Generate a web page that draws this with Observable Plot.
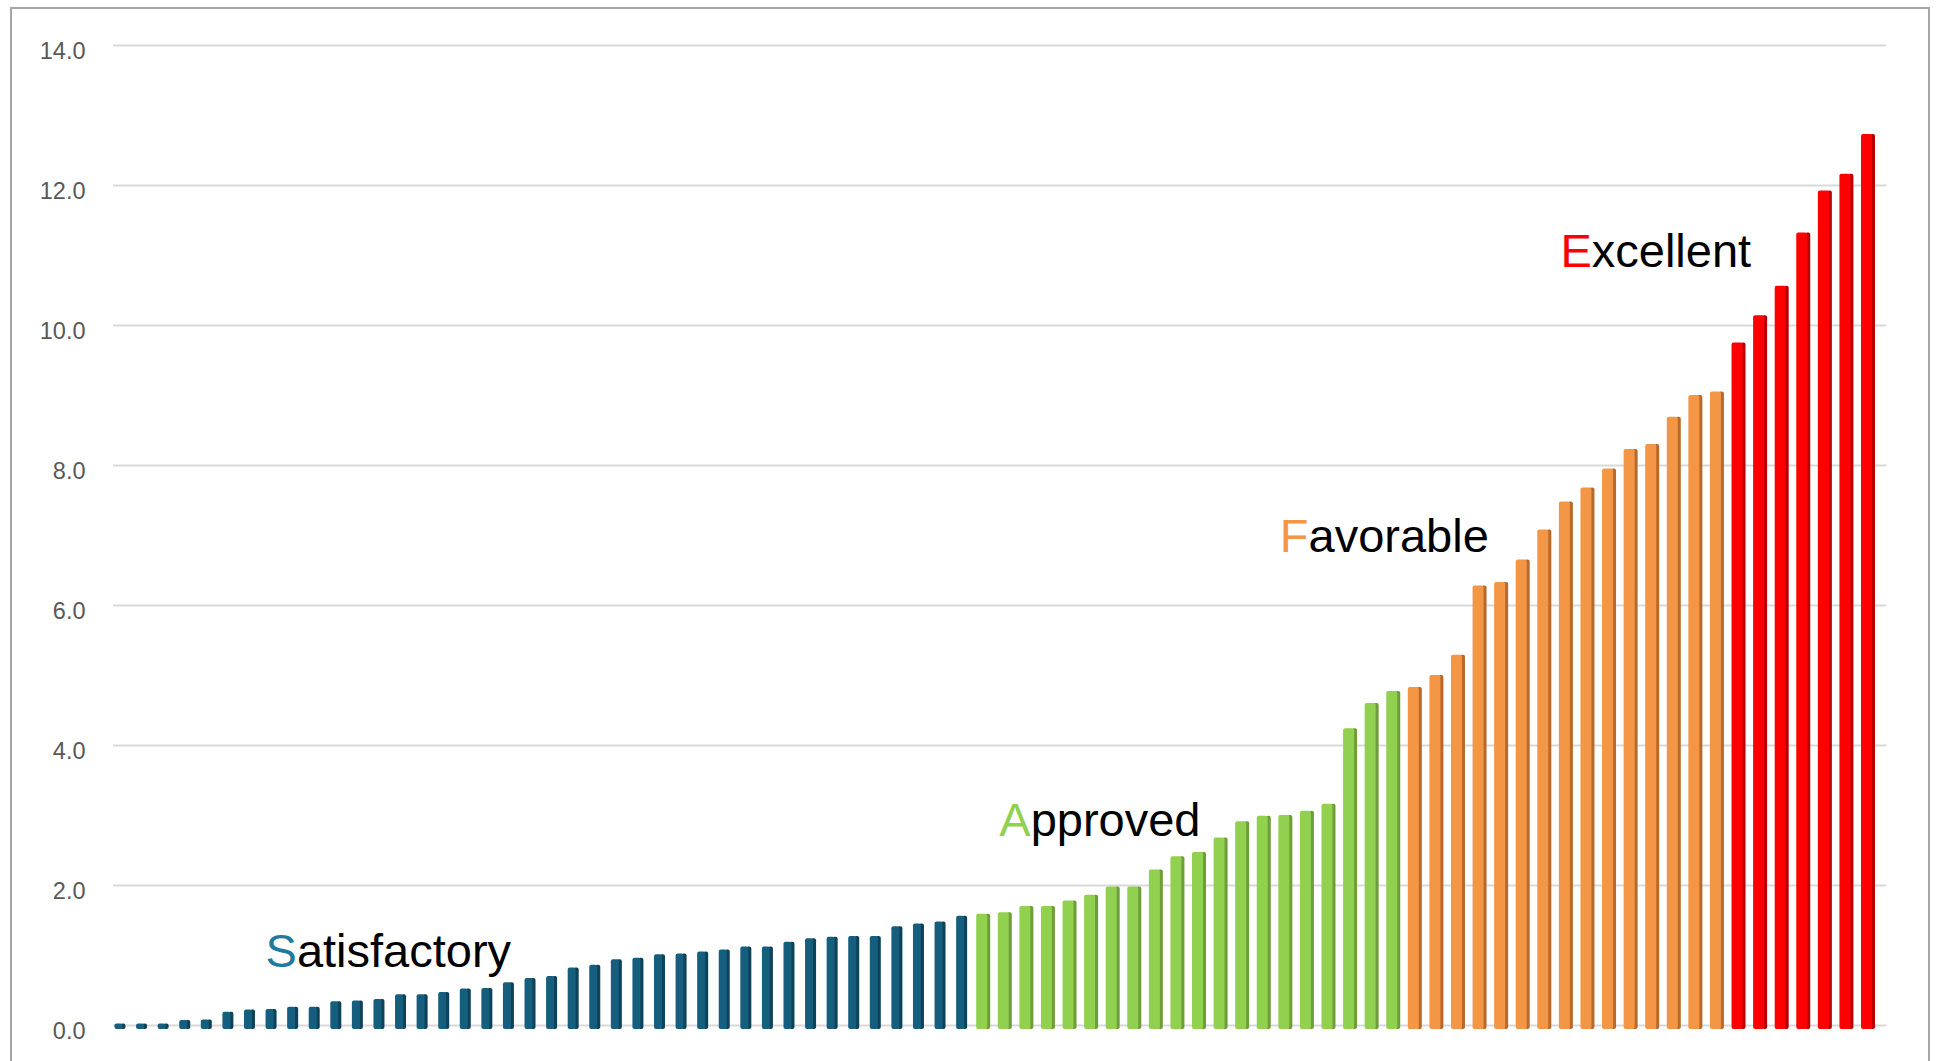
<!DOCTYPE html>
<html><head><meta charset="utf-8">
<script src="https://cdn.jsdelivr.net/npm/d3@7"></script>
<script src="https://cdn.jsdelivr.net/npm/@observablehq/plot@0.6"></script>
<style>
html,body{margin:0;padding:0;background:#fff;overflow:hidden;}
#wrap{position:relative;width:1939px;height:1061px;}
#wrap svg{position:absolute;left:0;top:0;}
#frame{position:absolute;left:10px;top:7px;width:1920px;height:1100px;border:2px solid #a6a6a6;box-sizing:border-box;pointer-events:none;}
</style></head><body><div id="wrap"><div id="frame"></div></div>
<script>
// ---- data ----
const satisfactory = [0.02, 0.02, 0.02, 0.07, 0.08, 0.19, 0.22, 0.23, 0.26, 0.26,
  0.34, 0.35, 0.37, 0.44, 0.44, 0.47, 0.52, 0.53, 0.61, 0.67,
  0.70, 0.82, 0.86, 0.94, 0.96, 1.01, 1.02, 1.05, 1.08, 1.12,
  1.12, 1.19, 1.24, 1.26, 1.27, 1.27, 1.41, 1.45, 1.48, 1.56];
const approved = [1.59, 1.61, 1.70, 1.70, 1.78, 1.86, 1.98, 1.98, 2.22, 2.41,
  2.47, 2.68, 2.91, 2.99, 3.00, 3.06, 3.16, 4.24, 4.60, 4.77];
const favorable = [4.83, 5.00, 5.29, 6.28, 6.33, 6.65, 7.08, 7.48, 7.68, 7.95,
  8.23, 8.30, 8.69, 9.00, 9.05];
const excellent = [9.75, 10.14, 10.56, 11.32, 11.92, 12.16, 12.73];
const groupNames = ["Satisfactory", "Approved", "Favorable", "Excellent"];
const yTicks = [0, 2, 4, 6, 8, 10, 12, 14];
// annotation anchors (bar index, value)
const labelBar = [7, 41, 54, 67];
const labelValue = [0.83, 2.71, 6.76, 10.83];

// ---- build table ----
const series = [satisfactory, approved, favorable, excellent];
const rows = [];
series.forEach((vals, g) => vals.forEach(v => rows.push({i: rows.length, value: v, group: groupNames[g]})));
const N = rows.length;
const labels = groupNames.map((name, k) => ({name, i: labelBar[k], value: labelValue[k]}));

// ---- styles ----
const front = {Satisfactory: "#165e7e", Approved: "#92d050", Favorable: "#f39646", Excellent: "#ff0000"};
const side  = {Satisfactory: "#0e4259", Approved: "#6e9e3a", Favorable: "#b86a2c", Excellent: "#b80000"};
const letterColor = {Satisfactory: "#1f7a9e", Approved: "#92d050", Favorable: "#f39646", Excellent: "#ff0000"};
const barWidth = {Satisfactory: 11, Approved: 14, Favorable: 14, Excellent: 14};
const xRange = [109.2, 1878.8];
const B = (xRange[1] - xRange[0]) / N;

const barMarks = [];
for (const g of groupNames) {
  const data = rows.filter(r => r.group === g);
  const w = barWidth[g], s = 3;
  barMarks.push(Plot.barY(data, {x: "i", y: "value", fill: side[g], rx: 2,
    insetLeft: (B + w) / 2 - s - 2, insetRight: (B - w) / 2, insetBottom: -4}));
  barMarks.push(Plot.barY(data, {x: "i", y: "value", fill: front[g], rx: 2,
    insetLeft: (B - w) / 2, insetRight: (B - w) / 2 + s, insetBottom: -4}));
}

const chart = Plot.plot({
  width: 1939,
  height: 1061,
  marginLeft: 113,
  marginRight: 53,
  marginTop: 45,
  marginBottom: 36,
  style: {fontFamily: "'Liberation Sans', Arial, sans-serif", background: "transparent"},
  x: {type: "band", domain: d3.range(N), range: xRange, padding: 0, axis: null},
  y: {domain: [0, 14], axis: null},
  marks: [
    Plot.ruleY(yTicks, {stroke: "#d9d9d9", strokeWidth: 2}),
    Plot.axisY(yTicks, {tickSize: 0, tickPadding: 28, tickFormat: d3.format(".1f"),
      fontSize: 23.5, fill: "#595959", dy: 6, label: null}),
    ...barMarks,
    Plot.text(labels, {x: "i", y: "value", text: "name", textAnchor: "start", lineAnchor: "bottom",
      fontSize: 47, fill: "#000", dx: -6})
  ]
});

// colour the first letter of each annotation
d3.select(chart).selectAll("text").each(function () {
  const t = this.textContent;
  if (groupNames.includes(t)) {
    const sel = d3.select(this);
    sel.text(null);
    sel.append("tspan").attr("fill", letterColor[t]).text(t[0]);
    sel.append("tspan").attr("fill", "#000").text(t.slice(1));
  }
});

document.getElementById("wrap").prepend(chart);
</script>
</body></html>
